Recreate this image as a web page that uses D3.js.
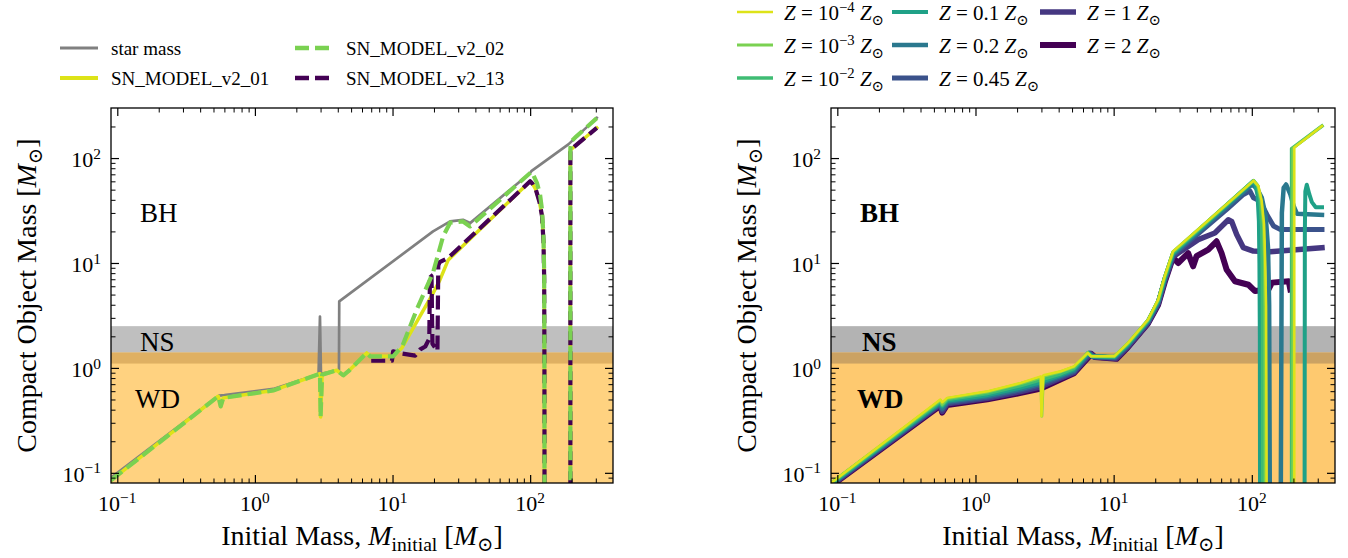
<!DOCTYPE html>
<meta charset="utf-8">
<script src="https://d3js.org/d3.v7.min.js"></script>
<style>
  body { margin: 0; background: #fff; }
</style>
<body>
<svg width="1348" height="558" font-family="'Liberation Serif', 'Times New Roman', 'DejaVu Serif', serif"></svg>
<script>

// ---------------- data (initial mass, compact object mass) ----------------
var xDomain = [0.09, 400];
var yDomain = [0.08, 300];
var xMajor = [0.1, 1, 10, 100];
var yMajor = [0.1, 1, 10, 100];
var majorLabels = ["\u22121", "0", "1", "2"];   // exponents of 10
var nsBand = [1.1, 2.5];
var wdTop = 1.4;
var regionNames = ["BH", "NS", "WD"];
var regionLevels = [30, 1.75, 0.5];

// left panel
var starMass = [[0.09,0.09],[0.55,0.545],[0.6,0.55],[1.36,0.63],[2.9,0.87],[2.97,3.08],[3.02,0.88],
  [3.93,0.95],[4.08,0.92],[4.1,4.3],[19.7,20],[26.2,24.9],[32.5,25.8],[36.6,24],[100,72],[102,75],
  [189.5,135],[305,242]];
var leftLow = [[0.09,0.085],[0.542,0.537],[0.564,0.43],[0.589,0.518],[1.36,0.61],[2.97,0.88],[3.0,0.34],
  [3.08,0.86],[3.93,0.95],[4.39,0.85],[4.78,0.93],[6.49,1.39],[6.86,1.29],[10.1,1.29]];
var model01Tail = [[11.7,1.55],[15.8,3.1],[19.8,5.2],[22.1,6.9],[25.4,10.7],[100,60],[104,57],[110,50],
  [117,38],[122,28],[125,16],[126.5,7],[127,1],[127.2,0.05],[196,0.05],[196,118],[200,122],[305,194]];
var model02Tail = [[11.8,1.62],[15.0,3.6],[19.7,8.1],[23.3,17.9],[26.2,24.2],[32.5,24.9],[36.6,22.3],
  [41,25.5],[100,72],[102,74],[106,68],[112,58],[118,45],[122,32],[125,18],[126.5,8],[127,1],[127.2,0.05],
  [196,0.05],[196,125],[200,145],[218,162],[305,240]];
var model13 = [[7.0,1.17],[9.9,1.17],[10.1,1.44],[11.7,1.37],[14.6,1.31],[15.9,1.5],[17.3,1.6],[18.5,1.9],
  [18.7,7.8],[19.2,7.5],[19.5,1.7],[21.2,1.45],[21.5,9.5],[22,10.2],[25.4,11.2],[100,60],[104,57],[110,50],
  [117,38],[122,28],[125,16],[126.5,7],[127,1],[127.2,0.05],[196,0.05],[196,118],[200,122],[305,194]];
var leftNames = ["star mass", "SN_MODEL_v2_01", "SN_MODEL_v2_02", "SN_MODEL_v2_13"];

// right panel, one array per metallicity
var z1e4 = [[0.09,0.08],[0.557,0.499],[0.574,0.47],[0.624,0.518],[1.22,0.598],[2.13,0.72],[2.97,0.83],
  [3.0,0.346],[3.1,0.85],[4.15,0.93],[5.16,1.035],[6.49,1.39],[6.86,1.29],[10.1,1.29],[12.7,1.73],[17.7,2.88],
  [21,4.47],[23.4,7.45],[26.9,12.9],[103,61],[111.6,54],[118,38.9],[122.7,23.3],[124.8,11.2],[126.9,3.8],
  [128,0.05],[203,0.05],[203,126],[322,202]];
var z1e3 = [[0.09,0.08],[0.557,0.49],[0.574,0.45],[0.624,0.51],[1.22,0.59],[2.13,0.71],[2.97,0.81],
  [3.02,0.346],[3.1,0.83],[4.15,0.92],[5.16,1.02],[6.5,1.39],[6.9,1.29],[10.1,1.29],[12.7,1.72],[17.7,2.86],
  [21,4.45],[23.4,7.4],[26.9,12.8],[103,61],[111,54],[117,39],[121.5,23],[123.5,11],[124.5,3.7],[125,0.05],
  [198,0.05],[198,124],[322,202]];
var z1e2 = [[0.09,0.079],[0.557,0.48],[0.574,0.44],[0.624,0.5],[1.22,0.57],[2.13,0.68],[2.97,0.77],
  [4.15,0.88],[5.16,0.99],[6.5,1.39],[6.9,1.29],[10.1,1.28],[12.7,1.7],[17.7,2.83],[21,4.4],[23.4,7.3],
  [26.9,12.6],[103,61],[110,55],[115,40],[118,22],[119.2,8],[119.8,2],[120,0.05],[194,0.05],[194,123],[322,202]];
var z01 = [[0.09,0.078],[0.557,0.47],[0.574,0.43],[0.624,0.487],[1.22,0.55],[2.13,0.65],[2.97,0.73],
  [4.15,0.86],[5.16,0.97],[6.55,1.39],[6.95,1.29],[10.1,1.27],[12.7,1.67],[17.7,2.8],[21,4.3],[23.4,7.1],
  [26.9,12.4],[102,60],[106,56],[110,44],[112.5,25],[113.5,10],[114.3,2],[114.7,0.05],[241,0.05],[242,20],
  [244,48],[250,55.7],[261,45],[272,38],[290,34],[322,34]];
var z02 = [[0.09,0.078],[0.557,0.462],[0.574,0.41],[0.624,0.475],[1.22,0.537],[2.13,0.63],[2.97,0.71],
  [4.15,0.84],[5.16,0.94],[6.6,1.38],[7.0,1.28],[10.2,1.26],[12.7,1.65],[17.7,2.76],[21,4.22],[23.4,7.0],
  [26.9,12.1],[100,56],[104,54],[110,50],[118,42],[126,28],[131,14],[133.5,4],[135,0.05],[162,0.05],
  [165,30],[170,52],[177,56],[190,45],[201,34.9],[212,29.5],[322,28.8]];
var z045 = [[0.09,0.077],[0.557,0.455],[0.574,0.4],[0.624,0.466],[1.22,0.526],[2.13,0.616],[2.97,0.69],
  [4.15,0.82],[5.16,0.92],[6.7,1.38],[7.1,1.28],[10.3,1.25],[12.7,1.62],[17.7,2.71],[21,4.15],[23.4,6.9],
  [26.9,11.8],[40,18.5],[65.8,32.4],[86.9,45],[97,48.5],[102.6,41.9],[114.7,38.9],[128.4,29],[143.6,22.5],
  [160,20.9],[322,20.9]];
var z1 = [[0.09,0.076],[0.557,0.447],[0.574,0.385],[0.624,0.455],[1.22,0.513],[2.13,0.596],[2.97,0.66],
  [4.15,0.8],[5.16,0.905],[6.8,1.37],[7.2,1.28],[10.4,1.23],[12.7,1.6],[17.7,2.67],[21,4.07],[23.4,6.7],
  [26.9,11.5],[34.6,14.4],[40.9,16.7],[54,19.3],[67.6,25.8],[71.5,24.9],[77.7,18.7],[86.9,14.0],
  [102.6,13.0],[135.5,12.8],[322,14.0]];
var z2 = [[0.09,0.075],[0.557,0.438],[0.574,0.375],[0.624,0.444],[1.22,0.502],[2.13,0.578],[2.97,0.637],
  [4.15,0.78],[5.16,0.888],[6.9,1.36],[7.3,1.27],[10.5,1.22],[12.7,1.58],[17.7,2.64],[21,4.0],[23.4,6.53],
  [26.9,11.3],[29.3,10.0],[34.6,12.4],[37.6,9.3],[39.8,11.6],[48.4,13.4],[55.6,16.1],[60.4,12.4],[65.8,8.6],
  [75.5,6.7],[94.5,6.2],[105.5,5.4],[132,5.6],[140,6.5],[185,6.7],[190,5.6]];
var zLabels = ["10^\u22124", "10^\u22123", "10^\u22122", "0.1", "0.2", "0.45", "1", "2"];
var zSeries = [z1e4, z1e3, z1e2, z01, z02, z045, z1, z2];

// ---------------- styles ----------------
var zColors = ["#dde318", "#7ad151", "#3fbc73", "#1fa187", "#2a788e", "#3b528b", "#453781", "#440154"];
var zWidths = [2.5, 3, 3.5, 4, 4.5, 5, 5.5, 6];
var grey = "#808080", yellow = "#dde318", green = "#7ad151", dark = "#440154";
var serif = "'Liberation Serif', 'Times New Roman', 'DejaVu Serif', serif";

var svg = d3.select("svg");

function txt(parent) {
  return parent.append("text").attr("font-family", serif).attr("fill", "#000");
}

// text with italic / superscript / subscript parts
function rich(sel, parts, size) {
  var cur = 0;
  parts.forEach(function(p) {
    var target = p.sup ? -0.38 * size : (p.sub ? 0.22 * size : 0);
    var ts = sel.append("tspan").attr("dy", target - cur).text(p.t);
    cur = target;
    if (p.sup || p.sub) ts.attr("font-size", size * 0.7);
    if (p.i) ts.attr("font-style", "italic");
  });
}

function minorTicks(lo, hi) {
  var out = [];
  for (var e = -2; e <= 3; e++)
    for (var k = 2; k <= 9; k++) {
      var v = k * Math.pow(10, e);
      if (v > lo * 1.001 && v < hi * 0.999) out.push(v);
    }
  return out;
}

function panel(o) {
  var g = svg.append("g");
  var x = d3.scaleLog().domain(xDomain).range([o.x0, o.x1]);
  var y = d3.scaleLog().domain(yDomain).range([o.y1, o.y0]);

  // bands
  g.append("rect").attr("x", o.x0).attr("width", o.x1 - o.x0)
    .attr("y", y(nsBand[1])).attr("height", y(nsBand[0]) - y(nsBand[1])).attr("fill", o.greyFill);
  g.append("rect").attr("x", o.x0).attr("width", o.x1 - o.x0)
    .attr("y", y(wdTop)).attr("height", o.y1 - y(wdTop)).attr("fill", o.orangeFill);
  g.append("rect").attr("x", o.x0).attr("width", o.x1 - o.x0)
    .attr("y", y(wdTop)).attr("height", y(nsBand[0]) - y(wdTop)).attr("fill", o.overlapFill);

  // region labels
  regionNames.forEach(function(n, i) {
    txt(g).attr("x", o.labelX[i]).attr("y", y(regionLevels[i]) + 9)
      .attr("font-size", 27).attr("font-weight", o.bold ? "bold" : "normal").text(n);
  });

  // lines
  g.append("clipPath").attr("id", o.id).append("rect")
    .attr("x", o.x0).attr("y", o.y0).attr("width", o.x1 - o.x0).attr("height", o.y1 - o.y0);
  var line = d3.line().x(function(d) { return x(d[0]); }).y(function(d) { return y(d[1]); });
  var lg = g.append("g").attr("clip-path", "url(#" + o.id + ")");
  o.series.forEach(function(s) {
    lg.append("path").datum(s.data).attr("d", line).attr("fill", "none")
      .attr("stroke", s.color).attr("stroke-width", s.width)
      .attr("stroke-dasharray", s.dash || null)
      .attr("stroke-linejoin", "round").attr("stroke-linecap", s.dash ? "butt" : "square");
  });

  // ticks on all four sides, pointing inward
  var xm = minorTicks(xDomain[0], xDomain[1]), ym = minorTicks(yDomain[0], yDomain[1]);
  [[d3.axisBottom(x), o.y1, 0, xMajor, xm], [d3.axisTop(x), o.y0, 0, xMajor, xm],
   [d3.axisLeft(y), 0, o.x0, yMajor, ym], [d3.axisRight(y), 0, o.x1, yMajor, ym]].forEach(function(a) {
    [[a[3], 8, 1.2], [a[4], 4.5, 1]].forEach(function(t) {
      var ax = g.append("g").attr("transform", "translate(" + a[2] + "," + a[1] + ")")
        .call(a[0].tickValues(t[0]).tickSize(-t[1]).tickFormat(""));
      ax.select(".domain").remove();
      ax.selectAll("line").attr("stroke", "#000").attr("stroke-width", t[2]);
    });
  });

  g.append("rect").attr("x", o.x0).attr("y", o.y0).attr("width", o.x1 - o.x0).attr("height", o.y1 - o.y0)
    .attr("fill", "none").attr("stroke", "#000").attr("stroke-width", 1.3);

  // tick labels
  xMajor.forEach(function(v, i) {
    var t = txt(g).attr("x", x(v)).attr("y", o.y1 + 28).attr("text-anchor", "middle")
      .attr("font-size", 22);
    rich(t, [{t: "10"}, {t: majorLabels[i], sup: 1}], 22);
  });
  yMajor.forEach(function(v, i) {
    var t = txt(g).attr("x", o.x0 - 10).attr("y", y(v) + 9).attr("text-anchor", "end")
      .attr("font-size", 22);
    rich(t, [{t: "10"}, {t: majorLabels[i], sup: 1}], 22);
  });

  // axis labels
  var xl = txt(g).attr("x", (o.x0 + o.x1) / 2).attr("y", 545).attr("text-anchor", "middle")
    .attr("font-size", 28);
  rich(xl, [{t: "Initial Mass, "}, {t: "M", i: 1}, {t: "initial", sub: 1}, {t: " ["}, {t: "M", i: 1},
    {t: "\u2299", sub: 1}, {t: "]"}], 28);
  var yl = txt(g).attr("transform", "translate(" + (o.x0 - 75) + "," + ((o.y0 + o.y1) / 2) + ") rotate(-90)")
    .attr("text-anchor", "middle").attr("font-size", 28);
  rich(yl, [{t: "Compact Object Mass ["}, {t: "M", i: 1}, {t: "\u2299", sub: 1}, {t: "]"}], 28);
}

var dash = "14,6";

panel({
  id: "clipL", x0: 111, x1: 613, y0: 108, y1: 483,
  greyFill: "#bfbfbf", orangeFill: "#ffd280", overlapFill: "#dfb062",
  labelX: [140, 140, 135], bold: false,
  series: [
    {data: starMass, color: grey, width: 2.7},
    {data: leftLow.concat(model01Tail), color: yellow, width: 3.5},
    {data: model13, color: dark, width: 4.2, dash: dash},
    {data: leftLow.concat(model02Tail), color: green, width: 4.2, dash: dash}
  ]
});

var rightSeries = zSeries.map(function(d, i) {
  return {data: d, color: zColors[i], width: zWidths[i]};
}).reverse();

panel({
  id: "clipR", x0: 831, x1: 1335, y0: 108, y1: 483,
  greyFill: "#b3b3b3", orangeFill: "#fec96f", overlapFill: "#cba263",
  labelX: [860, 862, 857], bold: true,
  series: rightSeries
});

// ---------------- legends ----------------
var leftLeg = [
  {name: leftNames[0], color: grey, width: 3, x: 60, y: 48},
  {name: leftNames[1], color: yellow, width: 4, x: 60, y: 78},
  {name: leftNames[2], color: green, width: 4.5, dash: dash, x: 295, y: 48},
  {name: leftNames[3], color: dark, width: 4.5, dash: dash, x: 295, y: 78}
];
leftLeg.forEach(function(l) {
  svg.append("line").attr("x1", l.x).attr("x2", l.x + 38).attr("y1", l.y).attr("y2", l.y)
    .attr("stroke", l.color).attr("stroke-width", l.width).attr("stroke-dasharray", l.dash || null);
  txt(svg).attr("x", l.x + 51).attr("y", l.y + 7).attr("font-size", 19).text(l.name);
});

var colX = [737, 892, 1040], rowY = [12, 45, 78];
var legOrder = [[0, 0], [0, 1], [0, 2], [1, 0], [1, 1], [1, 2], [2, 0], [2, 1]];
zLabels.forEach(function(lab, i) {
  var cx = colX[legOrder[i][0]], cy = rowY[legOrder[i][1]];
  svg.append("line").attr("x1", cx).attr("x2", cx + 36).attr("y1", cy).attr("y2", cy)
    .attr("stroke", zColors[i]).attr("stroke-width", zWidths[i]);
  var t = txt(svg).attr("x", cx + 47).attr("y", cy + 8).attr("font-size", 21);
  var parts = lab.split("^");
  var p = [{t: "Z", i: 1}, {t: " = " + parts[0]}];
  if (parts[1]) p.push({t: parts[1], sup: 1});
  p.push({t: " "}, {t: "Z", i: 1}, {t: "\u2299", sub: 1});
  rich(t, p, 21);
});
</script>
</body>
